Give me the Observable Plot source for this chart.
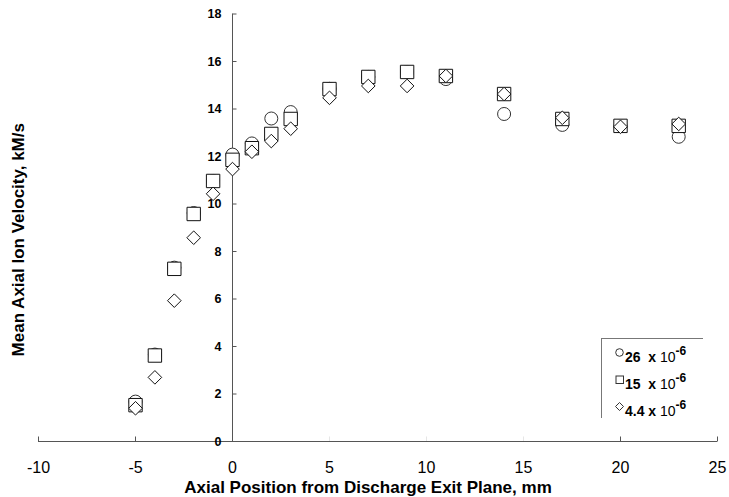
<!DOCTYPE html>
<html>
<head>
<meta charset="utf-8">
<script src="https://cdn.jsdelivr.net/npm/d3@7"></script>
<script src="https://cdn.jsdelivr.net/npm/@observablehq/plot@0.6"></script>
<style>
  html, body { margin: 0; padding: 0; background: #fff; }
  #wrap { position: relative; width: 729px; height: 497px; font-family: "Liberation Sans", Arial, sans-serif; }
  #legend { position: absolute; left: 601px; top: 338px; width: 102px; height: 80px;
            border-left: 1px solid #777; border-top: 1px solid #777; box-sizing: border-box; }
  .row { position: absolute; left: 23px; font-size: 14px; color: #000; white-space: nowrap; line-height: 16px; }
  .row svg { position: absolute; left: -10px; top: 4px; }
  .row b { font-weight: bold; }
  .row sup { font-weight: bold; font-size: 12px; position: relative; top: -1px; }
</style>
</head>
<body>
<div id="wrap"></div>
<script>
// ---- data ----
const xPositions = [-5, -4, -3, -2, -1, 0, 1, 2, 3, 5, 7, 9, 11, 14, 17, 20, 23];
const v26  = [1.68, 3.66, 7.32, 9.62, 10.97, 12.08, 12.55, 13.6, 13.87, 14.85, 15.35, 15.56, 15.26, 13.79, 13.33, 13.28, 12.83];
const v15  = [1.53, 3.62, 7.27, 9.58, 10.97, 11.86, 12.35, 12.95, 13.58, 14.84, 15.35, 15.56, 15.39, 14.63, 13.58, 13.29, 13.29];
const v4_4 = [1.40, 2.70, 5.93, 8.58, 10.43, 11.47, 12.2, 12.65, 13.17, 14.47, 14.97, 14.97, 15.39, 14.63, 13.63, 13.25, 13.37];
const xTicks = [-10, -5, 0, 5, 10, 15, 20, 25];
const yTicks = [0, 2, 4, 6, 8, 10, 12, 14, 16, 18];
const xDomain = [-10, 25];
const yDomain = [0, 18];
const seriesLabels = ["26", "15", "4.4"];
const xTitle = "Axial Position from Discharge Exit Plane, mm";
const yTitle = "Mean Axial Ion Velocity, kM/s";

// ---- symbols ----
const rOf = s => Math.sqrt(s / Math.PI);
const circleSym = {draw(c, s) { const r = rOf(s); c.moveTo(r, 0); c.arc(0, 0, r, 0, 2 * Math.PI); c.closePath(); }};
const squareSym = {draw(c, s) { const r = rOf(s); c.moveTo(-r, -r); c.lineTo(r, -r); c.lineTo(r, r); c.lineTo(-r, r); c.closePath(); }};
const diamondSym = {draw(c, s) { const r = rOf(s); c.moveTo(0, -r); c.lineTo(r, 0); c.lineTo(0, r); c.lineTo(-r, 0); c.closePath(); }};
const hTick = {draw(c, s) { const r = rOf(s); c.moveTo(0, 0); c.lineTo(r, 0); }};
const vTick = {draw(c, s) { const r = rOf(s); c.moveTo(0, 0); c.lineTo(0, -r); }};

const rows = (vals) => xPositions.map((x, i) => ({x, y: vals[i]})).filter(d => d.y != null);

const chart = Plot.plot({
  width: 729,
  height: 497,
  marginLeft: 38,
  marginRight: 12,
  marginTop: 13.5,
  marginBottom: 56,
  style: {fontFamily: "'Liberation Sans', Arial, sans-serif", background: "#fff", overflow: "visible"},
  x: {domain: xDomain, axis: null},
  y: {domain: yDomain, axis: null},
  marks: [
    // axes lines
    Plot.ruleY([0], {stroke: "#555", strokeWidth: 1}),
    Plot.ruleX([0], {y1: yDomain[0], y2: yDomain[1], stroke: "#555", strokeWidth: 1}),
    // y ticks (inward)
    Plot.dot(yTicks, {x: 0, y: d => d, symbol: hTick, r: 4, stroke: "#555", fill: "none", strokeWidth: 1}),
    Plot.text(yTicks, {x: 0, y: d => d, text: d => String(d), dx: -11, textAnchor: "end",
      fontWeight: "bold", fontSize: 12.5, fill: "#000"}),
    // x ticks (inward)
    Plot.dot(xTicks.filter(d => d !== 0), {x: d => d, y: 0, symbol: vTick, r: 5, stroke: "#555", fill: "none",
      strokeWidth: 1, strokeOpacity: d => (d === 5 || d === 10 || d === 15) ? 0.15 : 1}),
    Plot.text(xTicks, {x: d => d, y: 0, text: d => String(d), dy: 26, fontSize: 16, fill: "#000"}),
    // data
    Plot.dot(rows(v26), {x: "x", y: "y", symbol: circleSym, r: 6.5, stroke: "#333", fill: "#fff", strokeWidth: 1}),
    Plot.dot(rows(v15), {x: "x", y: "y", symbol: squareSym, r: 6.7, stroke: "#111", fill: "#fff", strokeWidth: 1}),
    Plot.dot(rows(v4_4), {x: "x", y: "y", symbol: diamondSym, r: 6.8, stroke: "#111", fill: "#fff", strokeWidth: 1}),
    // axis titles
    Plot.text([xTitle], {text: d => d, frameAnchor: "bottom", textAnchor: "middle", lineAnchor: "middle",
      dx: -10, dy: 46, fontSize: 17, fontWeight: "bold", fill: "#000"}),
    Plot.text([yTitle], {text: d => d, frameAnchor: "left", textAnchor: "middle", lineAnchor: "middle",
      dx: -20, dy: 12, rotate: -90, fontSize: 17, fontWeight: "bold", fill: "#000"})
  ]
});

const wrap = document.getElementById("wrap");
wrap.appendChild(chart);

// ---- legend ----
const legend = document.createElement("div");
legend.id = "legend";
const icons = [
  '<circle cx="4.5" cy="4.5" r="3.8" fill="none" stroke="#333" stroke-width="1"/>',
  '<rect x="1" y="1" width="7.5" height="7.5" fill="none" stroke="#333" stroke-width="1"/>',
  '<path d="M4.5,0.5 L8.5,4.5 L4.5,8.5 L0.5,4.5 Z" fill="none" stroke="#333" stroke-width="1"/>'
];
const gaps = ["&nbsp; ", "&nbsp; ", " "];
seriesLabels.forEach((lab, i) => {
  const row = document.createElement("div");
  row.className = "row";
  row.style.top = (5 + i * 27) + "px";
  row.innerHTML = `<svg width="10" height="10">${icons[i]}</svg><b>${lab}${gaps[i]}x </b>10<sup>-6</sup>`;
  legend.appendChild(row);
});
wrap.appendChild(legend);
</script>
</body>
</html>
